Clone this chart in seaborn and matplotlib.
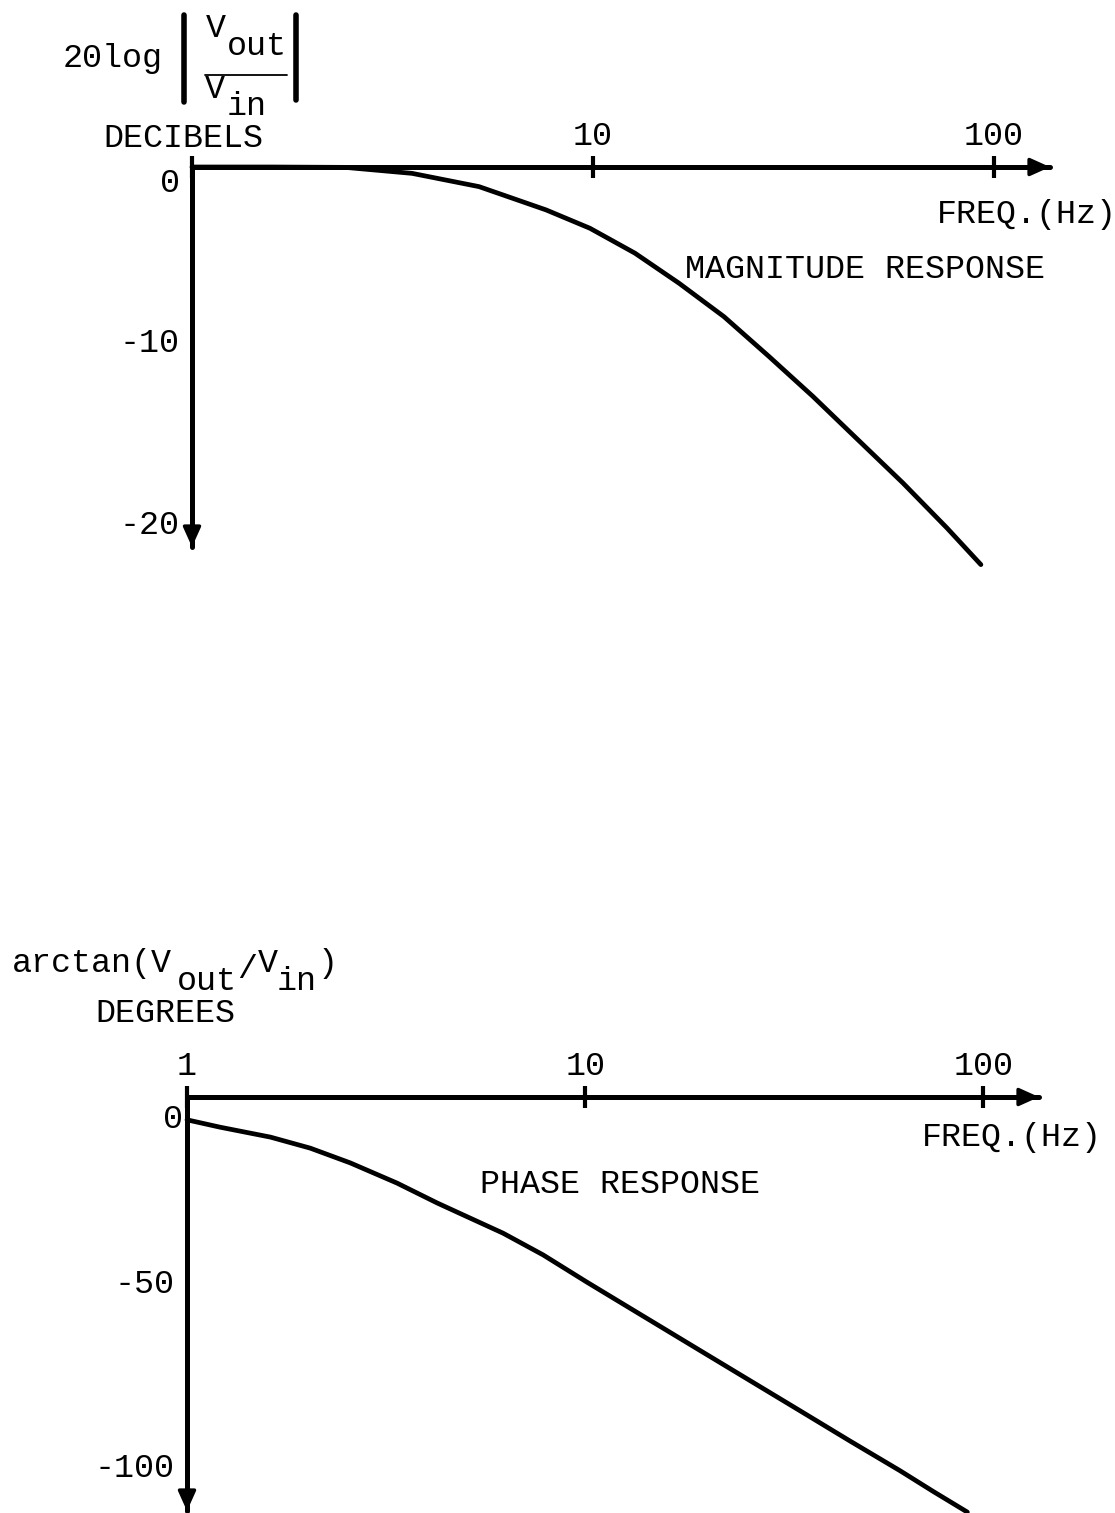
import numpy as np
import matplotlib
matplotlib.use("Agg")
import matplotlib.pyplot as plt
from matplotlib.lines import Line2D
from matplotlib.ticker import NullLocator
from matplotlib.transforms import ScaledTranslation
import seaborn as sns

sns.set_style("white")
plt.rcParams['font.family'] = ['Liberation Mono', 'DejaVu Sans Mono']
plt.rcParams['font.size'] = 24
plt.rcParams['text.color'] = 'black'
plt.rcParams['xtick.color'] = 'black'
plt.rcParams['ytick.color'] = 'black'

# magnitude response (Hz, dB)
mag_freq = [1.0, 1.57, 2.41, 3.54, 5.20, 7.64, 9.83, 12.73, 16.39, 21.22, 27.48,
            35.38, 45.80, 59.32, 76.35, 92.82]
mag_db = [0.0, 0.0, -0.02, -0.35, -1.08, -2.36, -3.37, -4.74, -6.39, -8.23, -10.42,
          -12.62, -15.0, -17.38, -19.85, -21.87]

# phase response (Hz, degrees)
ph_freq = [1.0, 1.21, 1.62, 2.04, 2.57, 3.37, 4.25, 5.14, 6.22, 7.84, 10.1, 13.2,
           19.45, 25.98, 34.7, 46.3, 61.9, 74.9, 91.2]
ph_deg = [-6.2, -8.2, -10.9, -13.9, -17.9, -23.4, -28.8, -32.9, -37.0, -42.9, -50.3, -57.9,
          -68.9, -77.1, -85.3, -93.5, -101.6, -107.2, -112.8]

freq_ticks = [1, 10, 100]
mag_freq_labels = ['', '10', '100']
ph_freq_labels = ['1', '10', '100']
mag_ticks = [0, -10, -20]
mag_tick_labels = ['', '-10', '-20']
ph_ticks = [0, -50, -100]
ph_tick_labels = ['', '-50', '-100']

W, H = 1115, 1513
LW_AX = 3.6
LW_CURVE = 3.4


def fx(x):
    return x / W


def fy(y):
    return 1 - y / H


def style_axis(ax, yticks, ylabels, xlabels):
    ax.set_xscale('log')
    ax.xaxis.set_minor_locator(NullLocator())
    ax.yaxis.set_minor_locator(NullLocator())
    for side in ['right', 'bottom']:
        ax.spines[side].set_visible(False)
    for side in ['left', 'top']:
        ax.spines[side].set_linewidth(LW_AX)
        ax.spines[side].set_color('black')
        ax.spines[side].set_capstyle('round')
    ax.xaxis.tick_top()
    ax.set_xticks(freq_ticks)
    ax.set_xticklabels(xlabels)
    ax.set_yticks(yticks)
    ax.set_yticklabels(ylabels)
    ax.tick_params(axis='x', direction='inout', length=16, width=3, pad=3, labelsize=24)
    ax.tick_params(axis='y', direction='inout', length=16, width=3, pad=1, labelsize=24)
    ax.set_xlabel('')
    ax.set_ylabel('')
    ax.grid(False)
    # arrow heads at the ends of both axes
    head = dict(arrowstyle='-|>,head_length=1.0,head_width=0.45', lw=2.5,
                color='black', mutation_scale=12, shrinkA=0, shrinkB=0)
    ax.annotate('', xy=(1.0, 1.0), xytext=(0.97, 1.0), xycoords='axes fraction', arrowprops=head)
    ax.annotate('', xy=(0.0, 0.0), xytext=(0.0, 0.06), xycoords='axes fraction', arrowprops=head)


fig = plt.figure(figsize=(W / 100, H / 100), dpi=100)

# ---- magnitude panel ----
ax1 = fig.add_axes([fx(192), fy(547), 858 / W, 380 / H])
sns.lineplot(x=mag_freq, y=mag_db, ax=ax1, color='black', lw=LW_CURVE, sort=False, clip_on=False)
ax1.set_xlim(1, 10 ** 2.14)
ax1.set_ylim(-20.9, 0)
style_axis(ax1, mag_ticks, mag_tick_labels, mag_freq_labels)
# typed labels sit a little above their tick marks
for lab in ax1.get_yticklabels():
    lab.set_transform(lab.get_transform() + ScaledTranslation(0, 6 / 72, fig.dpi_scale_trans))
ax1.text(-0.014, -0.9, '0', ha='right', va='center', transform=ax1.get_yaxis_transform())
ax1.text(72.1, -2.64, 'FREQ.(Hz)', ha='left', va='center')
ax1.text(17.0, -5.66, 'MAGNITUDE RESPONSE', ha='left', va='center')

# ---- phase panel ----
ax2 = fig.add_axes([fx(187), fy(1511), 852 / W, 414 / H])
sns.lineplot(x=ph_freq, y=ph_deg, ax=ax2, color='black', lw=LW_CURVE, sort=False, clip_on=False)
ax2.set_xlim(1, 10 ** 2.14)
ax2.set_ylim(-112.5, 0)
style_axis(ax2, ph_ticks, ph_tick_labels, ph_freq_labels)
ax2.text(-0.005, -6.25, '0', ha='right', va='center', transform=ax2.get_yaxis_transform())
ax2.text(70.2, -10.9, 'FREQ.(Hz)', ha='left', va='center')
ax2.text(5.45, -23.9, 'PHASE RESPONSE', ha='left', va='center')

# ---- y axis titles (typed pieces) ----
def put(x, y, s):
    fig.text(fx(x), fy(y), s, ha='left', va='baseline', fontsize=24)

put(63, 67, '20log')
put(206, 37, 'V')
put(227, 55, 'out')
put(205, 98, 'V')
put(227, 115, 'in')
put(103, 147, 'DECIBELS')
fig.add_artist(Line2D([fx(184), fx(184)], [fy(15), fy(102)], lw=4, color='black', solid_capstyle='round'))
fig.add_artist(Line2D([fx(296), fx(296)], [fy(15), fy(100)], lw=4, color='black', solid_capstyle='round'))
fig.add_artist(Line2D([fx(205), fx(287)], [fy(75), fy(75)], lw=1.3, color='black'))

put(12, 972, 'arctan(V')
put(177, 990, 'out')
put(237, 978, '/')
put(258, 972, 'V')
put(277, 990, 'in')
put(318, 972, ')')
put(95, 1022, 'DEGREES')

fig.savefig('out.png', dpi=100, facecolor='white')
